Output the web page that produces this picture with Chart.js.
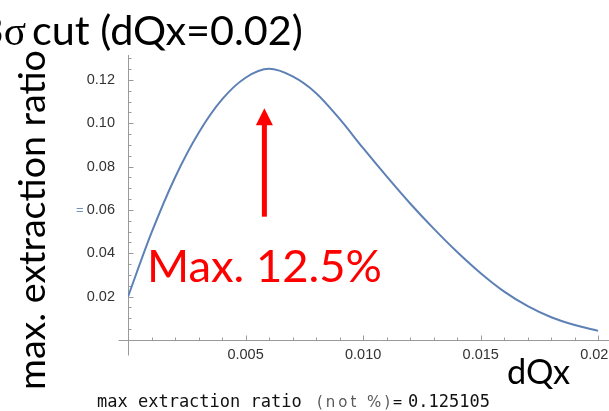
<!DOCTYPE html>
<html>
<head>
<meta charset="utf-8">
<script src="https://cdn.jsdelivr.net/npm/chart.js@4.4.1/dist/chart.umd.min.js"></script>
<style>
  html, body { margin: 0; padding: 0; background: #fff; overflow: hidden; width: 609px; height: 411px; }
  canvas { position: absolute; left: 0; top: 0; }
</style>
</head>
<body>
<canvas id="c" width="640" height="411"></canvas>
<script>
// Tune spread dQx and the maximum extracted fraction for a 3-sigma cut
const dQx = [0, 0.001, 0.002, 0.003, 0.004, 0.005, 0.006, 0.007, 0.008, 0.009, 0.010,
             0.011, 0.012, 0.013, 0.014, 0.015, 0.016, 0.017, 0.018, 0.019, 0.020];
const ratio = [0.0200, 0.0495, 0.0750, 0.0955, 0.1110, 0.1210, 0.125105, 0.1216, 0.1139, 0.1020, 0.0885,
               0.0755, 0.0630, 0.0514, 0.0406, 0.0308, 0.0223, 0.0156, 0.0105, 0.0069, 0.0042];

// Labelled ticks on each axis
const xTickValues = [0.005, 0.010, 0.015, 0.020];
const yTickValues = [0.02, 0.04, 0.06, 0.08, 0.10, 0.12];

// Texts
const TITLE_DIGIT = '3';
const TITLE_SIGMA = 'σ';
const TITLE_REST = 'cut (dQx=0.02)';
const Y_TITLE = 'max. extraction ratio';
const X_TITLE = 'dQx';
const READOUT_NAME = 'max extraction ratio ';
const READOUT_NOTE = '(not %)';

const peak = Math.max(...ratio);
const MAX_NOTE = 'Max. ' + (peak * 100).toFixed(1) + '%';
const READOUT_VALUE = peak.toFixed(6);

const SANS = 'Lato, "Open Sans", sans-serif';
const CURVE = '#5e81b5';
const AXIS = '#9a9a9a';

function sizeFor(ctx, text, family, width) {
  ctx.font = '100px ' + family;
  return 100 * width / ctx.measureText(text).width;
}

// draws text so that it spans the given width, spreading the letters evenly
function spreadText(ctx, text, x, y, width) {
  const w = ctx.measureText(text).width;
  const gap = (width - w) / (text.length - 1);
  let cx = x;
  for (const ch of text) {
    ctx.fillText(ch, cx, y);
    cx += ctx.measureText(ch).width + gap;
  }
}

const mathAxes = {
  id: 'mathAxes',
  beforeDatasetsDraw(chart) {
    const { ctx } = chart;
    const xs = chart.scales.x, ys = chart.scales.y;
    const x0 = Math.round(xs.getPixelForValue(0)) + 0.5;
    const y0 = Math.round(ys.getPixelForValue(0)) + 0.5;
    ctx.save();
    ctx.strokeStyle = AXIS;
    ctx.lineWidth = 1;
    ctx.beginPath();
    // axes crossing at the origin, slightly overshooting it
    ctx.moveTo(x0 - 10, y0); ctx.lineTo(chart.width, y0);
    ctx.moveTo(x0, ys.top); ctx.lineTo(x0, y0 + 15);
    // x ticks every 0.001, longer every 0.005
    for (let i = 1; i <= 21; i++) {
      const px = Math.round(xs.getPixelForValue(i * 0.001)) + 0.5;
      const len = i % 5 === 0 ? 5 : 3;
      ctx.moveTo(px, y0); ctx.lineTo(px, y0 - len);
    }
    // y ticks every 0.005, longer every 0.02
    for (let i = 1; i <= 26; i++) {
      const py = Math.round(ys.getPixelForValue(i * 0.005)) + 0.5;
      const len = i % 4 === 0 ? 5 : 3;
      ctx.moveTo(x0, py); ctx.lineTo(x0 + len, py);
    }
    ctx.stroke();
    ctx.restore();
  },
  afterDraw(chart) {
    const { ctx } = chart;
    const xs = chart.scales.x, ys = chart.scales.y;
    ctx.save();
    ctx.textBaseline = 'alphabetic';

    // title, running off the left edge
    ctx.fillStyle = '#000';
    const ts = sizeFor(ctx, TITLE_REST, SANS, 271);
    ctx.font = ts + 'px ' + SANS;
    ctx.textAlign = 'left';
    ctx.fillText(TITLE_REST, 32, 45);
    ctx.font = ts + 'px "Liberation Serif", serif';
    ctx.textAlign = 'right';
    ctx.fillText(TITLE_SIGMA, 26, 45);
    const sw = ctx.measureText(TITLE_SIGMA).width;
    ctx.font = ts + 'px ' + SANS;
    ctx.fillText(TITLE_DIGIT, 26 - sw, 45);
    ctx.textAlign = 'left';

    // vertical axis title
    const ys2 = sizeFor(ctx, Y_TITLE, SANS, 340);
    ctx.save();
    ctx.translate(45, 390);
    ctx.rotate(-Math.PI / 2);
    ctx.font = ys2 + 'px ' + SANS;
    ctx.fillText(Y_TITLE, 0, 0);
    ctx.restore();

    // horizontal axis title
    const xs2 = sizeFor(ctx, X_TITLE, SANS, 63);
    ctx.font = xs2 + 'px ' + SANS;
    ctx.fillText(X_TITLE, 507, 384);

    // small legend mark
    ctx.fillStyle = '#7394c2';
    ctx.font = '13px "Liberation Sans", sans-serif';
    ctx.textBaseline = 'middle';
    ctx.fillText('=', 76, 210);
    ctx.textBaseline = 'alphabetic';

    // arrow pointing at the maximum
    const ax = xs.getPixelForValue(0.0058);
    const tipY = ys.getPixelForValue(0.1069);
    const baseY = ys.getPixelForValue(0.0569);
    ctx.fillStyle = '#ff0000';
    ctx.fillRect(ax - 2.5, tipY + 15, 5, baseY - tipY - 15);
    ctx.beginPath();
    ctx.moveTo(ax, tipY);
    ctx.lineTo(ax + 8.5, tipY + 17);
    ctx.lineTo(ax - 8.5, tipY + 17);
    ctx.closePath();
    ctx.fill();

    // annotation of the maximum
    const ms = sizeFor(ctx, MAX_NOTE, SANS, 235);
    ctx.font = ms + 'px ' + SANS;
    ctx.fillText(MAX_NOTE, 147, 282);

    // evaluated maximum below the plot
    ctx.fillStyle = '#111';
    ctx.font = '17px "DejaVu Sans Mono", monospace';
    ctx.fillText(READOUT_NAME, 97, 407);
    ctx.fillStyle = '#5a5a5a';
    ctx.font = '15px "DejaVu Sans", sans-serif';
    spreadText(ctx, READOUT_NOTE, 317, 407, 73);
    ctx.fillStyle = '#111';
    ctx.font = '15px "DejaVu Sans Mono", monospace';
    ctx.fillText('=', 393, 407);
    ctx.font = '17px "DejaVu Sans Mono", monospace';
    ctx.fillText(READOUT_VALUE, 408, 407);

    ctx.restore();
  }
};

new Chart(document.getElementById('c'), {
  type: 'line',
  data: {
    datasets: [{
      data: dQx.map((x, i) => ({ x, y: ratio[i] })),
      borderColor: CURVE,
      borderWidth: 2,
      pointRadius: 0,
      cubicInterpolationMode: 'monotone',
      fill: false
    }]
  },
  options: {
    responsive: false,
    animation: false,
    devicePixelRatio: 1,
    layout: { padding: { top: 55, left: 0, right: 41.7, bottom: 0 } },
    plugins: { legend: { display: false }, tooltip: { enabled: false }, title: { display: false } },
    scales: {
      x: {
        type: 'linear', min: 0, max: 0.02,
        grid: { display: false }, border: { display: false },
        afterFit(s) { s.height = 71; },
        afterBuildTicks(s) { s.ticks = xTickValues.map(v => ({ value: v })); },
        ticks: {
          padding: -2, maxRotation: 0, color: '#333',
          font: { family: '"Liberation Sans", Arial, sans-serif', size: 14.5 },
          callback: v => v.toFixed(3)
        }
      },
      y: {
        type: 'linear', min: 0, max: 0.1315,
        grid: { display: false }, border: { display: false },
        afterFit(s) { s.width = 128; },
        afterBuildTicks(s) { s.ticks = yTickValues.map(v => ({ value: v })); },
        ticks: {
          padding: 5, color: '#333',
          font: { family: '"Liberation Sans", Arial, sans-serif', size: 14.5 },
          callback: v => v.toFixed(2)
        }
      }
    }
  },
  plugins: [mathAxes]
});
</script>
</body>
</html>
